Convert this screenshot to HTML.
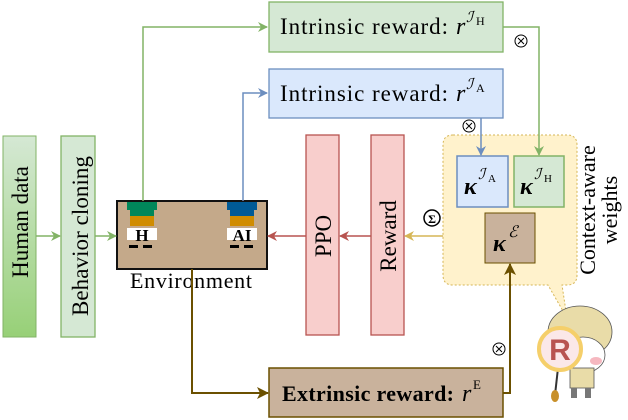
<!DOCTYPE html>
<html><head><meta charset="utf-8"><style>
body{margin:0;background:#fff}
svg{display:block}
text{font-family:"Liberation Serif",serif}
</style></head><body>
<svg width="628" height="420" viewBox="0 0 628 420" xmlns="http://www.w3.org/2000/svg">
<defs>
<linearGradient id="hg" x1="0" y1="0" x2="0" y2="1"><stop offset="0" stop-color="#d5e8d4"/><stop offset="1" stop-color="#97d077"/></linearGradient>
<marker id="ag" markerWidth="10" markerHeight="10" refX="9" refY="5" orient="auto" markerUnits="userSpaceOnUse"><path d="M0,0 L10,5 L0,10 L3,5z" fill="#82b366"/></marker>
<marker id="ab" markerWidth="10" markerHeight="10" refX="9" refY="5" orient="auto" markerUnits="userSpaceOnUse"><path d="M0,0 L10,5 L0,10 L3,5z" fill="#6c8ebf"/></marker>
<marker id="ar" markerWidth="10" markerHeight="10" refX="9" refY="5" orient="auto" markerUnits="userSpaceOnUse"><path d="M0,0 L10,5 L0,10 L3,5z" fill="#b85450"/></marker>
<marker id="ay" markerWidth="10" markerHeight="10" refX="9" refY="5" orient="auto" markerUnits="userSpaceOnUse"><path d="M0,0 L10,5 L0,10 L3,5z" fill="#d6b656"/></marker>
<marker id="an" markerWidth="12" markerHeight="12" refX="11" refY="6" orient="auto" markerUnits="userSpaceOnUse"><path d="M0,0 L12,6 L0,12 L3,6z" fill="#6b5000"/></marker>
</defs>
<path d="M453,135 H567 Q577,135 577,145 V275 Q577,285 567,285 H562 L567,318 L548,285 H453 Q443,285 443,275 V145 Q443,135 453,135z" fill="#fff2cc" stroke="#d6b656" stroke-dasharray="2,2"/>
<rect x="269" y="2" width="234" height="50" fill="#d5e8d4" stroke="#82b366" stroke-width="1.3"/>
<text x="280" y="34" font-size="23" textLength="168">Intrinsic reward:</text>
<text x="456" y="34" font-size="24" font-style="italic">r</text>
<text x="466" y="22" font-size="15" font-style="italic">ℐ</text><text x="476" y="25" font-size="12">H</text>
<rect x="269" y="69" width="234" height="49" fill="#dae8fc" stroke="#6c8ebf" stroke-width="1.3"/>
<text x="280" y="101" font-size="23" textLength="168">Intrinsic reward:</text>
<text x="456" y="101" font-size="24" font-style="italic">r</text>
<text x="466" y="89" font-size="15" font-style="italic">ℐ</text><text x="476" y="92" font-size="12">A</text>
<rect x="269" y="368" width="234" height="49" fill="#c9b29c" stroke="#6b5000" stroke-width="1.5"/>
<text x="282" y="401" font-size="22" font-weight="bold" textLength="172">Extrinsic reward:</text>
<text x="462" y="401" font-size="24" font-style="italic">r</text>
<text x="473" y="389" font-size="13">E</text>
<rect x="3" y="136" width="33" height="201" fill="url(#hg)" stroke="#82b366"/>
<text transform="translate(28,222) rotate(-90)" text-anchor="middle" font-size="23">Human data</text>
<rect x="61" y="136" width="34" height="201" fill="#d5e8d4" stroke="#82b366" stroke-width="1.3"/>
<text transform="translate(88,236) rotate(-90)" text-anchor="middle" font-size="23" textLength="160">Behavior cloning</text>
<rect x="306" y="135" width="33" height="200" fill="#f8cecc" stroke="#b85450" stroke-width="1.3"/>
<text transform="translate(331,236) rotate(-90)" text-anchor="middle" font-size="23">PPO</text>
<rect x="371" y="135" width="33" height="200" fill="#f8cecc" stroke="#b85450" stroke-width="1.3"/>
<text transform="translate(396,236) rotate(-90)" text-anchor="middle" font-size="23">Reward</text>
<rect x="117" y="201" width="150" height="68" fill="#c4a98a" stroke="#111" stroke-width="2"/>
<text x="191" y="288" text-anchor="middle" font-size="22" textLength="122">Environment</text>
<g>
<rect x="127" y="202" width="30" height="8" fill="#00875a"/><rect x="130" y="210" width="24" height="6" fill="#00875a"/>
<rect x="130" y="216" width="24" height="10" fill="#d08c00"/>
<rect x="127" y="228" width="30" height="12" fill="#fff"/>
<rect x="129" y="245" width="9" height="3" fill="#000"/><rect x="143" y="245" width="9" height="3" fill="#000"/>
<text x="142" y="241" text-anchor="middle" font-size="17" font-weight="bold">H</text>
<rect x="227" y="202" width="30" height="8" fill="#005a96"/><rect x="230" y="210" width="24" height="6" fill="#005a96"/>
<rect x="230" y="216" width="24" height="10" fill="#d08c00"/>
<rect x="227" y="228" width="30" height="12" fill="#fff"/>
<rect x="230" y="245" width="9" height="3" fill="#000"/><rect x="244" y="245" width="9" height="3" fill="#000"/>
<text x="242" y="241" text-anchor="middle" font-size="17" font-weight="bold">AI</text>
</g>
<rect x="457" y="156" width="51" height="51" fill="#dae8fc" stroke="#6c8ebf" stroke-width="1.5"/>
<text x="464" y="194" font-size="24" font-weight="bold" font-style="italic">κ</text>
<text x="478" y="179" font-size="15" font-style="italic">ℐ</text><text x="488" y="182" font-size="11">A</text>
<rect x="514" y="156" width="50" height="51" fill="#d5e8d4" stroke="#82b366" stroke-width="1.5"/>
<text x="520" y="194" font-size="24" font-weight="bold" font-style="italic">κ</text>
<text x="534" y="179" font-size="15" font-style="italic">ℐ</text><text x="544" y="182" font-size="11">H</text>
<rect x="485" y="213" width="50" height="50" fill="#c9b29c" stroke="#6b5000" stroke-width="1"/>
<text x="493" y="251" font-size="24" font-weight="bold" font-style="italic">κ</text>
<text x="508" y="237" font-size="16" font-style="italic">ℰ</text>
<text transform="translate(595,210) rotate(-90)" text-anchor="middle" font-size="22">Context-aware</text>
<text transform="translate(617,210) rotate(-90)" text-anchor="middle" font-size="22">weights</text>
<g fill="none" stroke-width="1.5">
<path d="M143,201 V27 H267" stroke="#82b366" marker-end="url(#ag)"/>
<path d="M243,201 V93 H267" stroke="#6c8ebf" marker-end="url(#ab)"/>
<path d="M503,27 H539 V155" stroke="#82b366" marker-end="url(#ag)"/>
<path d="M481,118 V155" stroke="#6c8ebf" marker-end="url(#ab)"/>
<path d="M36,236 H60" stroke="#82b366" marker-end="url(#ag)"/>
<path d="M95,236 H116" stroke="#82b366" marker-end="url(#ag)"/>
<path d="M306,236 H268" stroke="#b85450" marker-end="url(#ar)"/>
<path d="M371,236 H340" stroke="#b85450" marker-end="url(#ar)"/>
<path d="M443,236 H405" stroke="#d6b656" marker-end="url(#ay)"/>
<path d="M192,269 V393 H268" stroke="#6b5000" stroke-width="2" marker-end="url(#an)"/>
<path d="M503,393 H510 V264" stroke="#6b5000" stroke-width="2" marker-end="url(#an)"/>
</g>
<g fill="#fff" stroke="#000" stroke-width="1">
<circle cx="521" cy="41" r="6"/><circle cx="469" cy="126" r="6"/><circle cx="499" cy="349" r="6"/>
<circle cx="432" cy="218" r="8" stroke-width="1.5"/>
</g>
<g stroke="#000" stroke-width="1"><path d="M518,38 L524,44 M524,38 L518,44 M466,123 L472,129 M472,123 L466,129 M496,346 L502,352 M502,346 L496,352"/></g>
<text x="432" y="223" text-anchor="middle" font-size="12" font-weight="bold">Σ</text>
<g>
<ellipse cx="580" cy="332" rx="32" ry="26" fill="#e9dca8" stroke="#555" stroke-width="0.8"/>
<ellipse cx="583" cy="355" rx="22" ry="18" fill="#fff" stroke="#555" stroke-width="0.8"/>
<ellipse cx="596" cy="361" rx="6" ry="4" fill="#f6b8c0"/>
<rect x="570" y="368" width="24" height="20" fill="#e9dca8" stroke="#555" stroke-width="0.8"/>
<rect x="571" y="388" width="6" height="10" fill="#777"/><rect x="585" y="388" width="6" height="10" fill="#777"/>
<path d="M558,368 L555,395" stroke="#333" stroke-width="2"/>
<ellipse cx="555" cy="396" rx="4" ry="6" fill="#c8902a"/>
<circle cx="560" cy="349" r="21" fill="#fbe8e8" stroke="#f5cf6a" stroke-width="4"/>
<text x="560" y="360" text-anchor="middle" font-size="30" font-weight="bold" fill="#b85450" style="font-family:'Liberation Sans',sans-serif">R</text>
</g>
</svg>
</body></html>
